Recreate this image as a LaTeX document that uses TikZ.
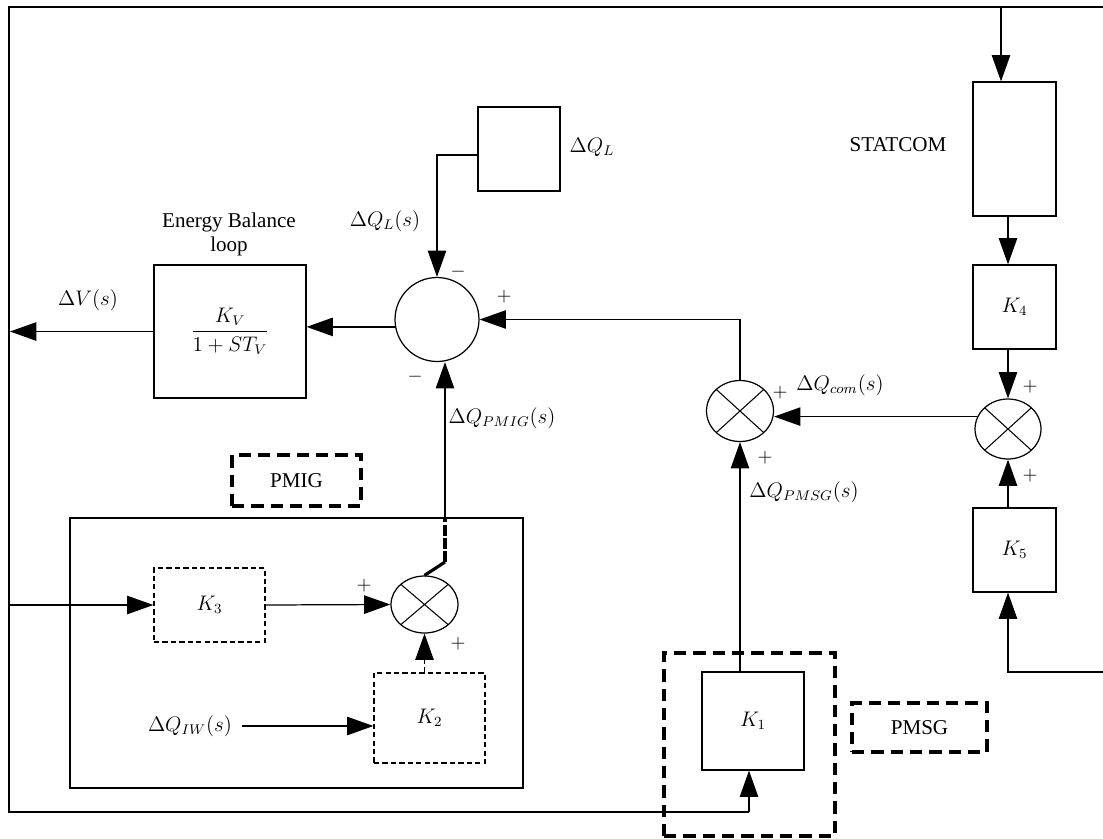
\documentclass[tikz,border=0pt]{standalone}
\usepackage{fontspec}
\setmainfont{Liberation Serif}
\usetikzlibrary{arrows.meta,shapes.geometric}

\tikzset{
  blk/.style={draw, line width=0.7pt, inner sep=0pt},
  dblk/.style={draw, line width=0.7pt, dash pattern=on 3pt off 1.8pt, inner sep=0pt},
  tagbox/.style={draw, line width=1.8pt, dash pattern=on 7pt off 4pt, inner sep=0pt},
  sumnode/.style={draw, circle, line width=0.7pt, minimum size=1.68cm, inner sep=0pt},
  mult/.style={draw, ellipse, line width=0.7pt, inner sep=0pt, minimum width=1.34cm, minimum height=1.2cm,
    path picture={\draw[line width=0.6pt] (path picture bounding box.north west) -- (path picture bounding box.south east)
      (path picture bounding box.north east) -- (path picture bounding box.south west);}},
  arr/.style={line width=0.7pt, -{Triangle[length=15pt,width=10.5pt]}},
  sgn/.style={font=\fontsize{11}{13}\selectfont, inner sep=0pt},
}

\begin{document}
\begin{tikzpicture}[x=0.02cm,y=-0.02cm,every node/.style={font=\fontsize{12}{13.6}\selectfont}]
\useasboundingbox (0,0) rectangle (1103,839);

% blocks
\node[blk, minimum width=1.64cm, minimum height=1.68cm] (dql) at (519,149) {};
\node[sumnode] (sum) at (437,319.5) {};
\node[blk, minimum width=3.04cm, minimum height=2.66cm] (eb) at (230,331.5) {$\displaystyle\frac{K_V}{1+ST_V}$};
\node[blk, minimum width=1.66cm, minimum height=2.68cm] (statcom) at (1014.5,149) {};
\node[blk, minimum width=1.66cm, minimum height=1.68cm] (k4) at (1014.5,307) {$K_4$};
\node[mult, minimum width=1.32cm] (c2) at (1008,429) {};
\node[blk, minimum width=1.66cm, minimum height=1.68cm] (k5) at (1014.5,550) {$K_5$};
\node[mult, minimum height=1.22cm] (c1) at (740,411) {};
\node[blk, minimum width=2.04cm, minimum height=1.96cm] (k1) at (753,721) {$K_1$};
\node[tagbox, minimum width=3.42cm, minimum height=3.66cm] (pmsgbox) at (749.5,744.5) {};
\node[tagbox, minimum width=2.7cm, minimum height=0.98cm] (pmsg) at (919.5,727.5) {PMSG};
\node[blk, minimum width=9.06cm, minimum height=5.4cm] (pmigbox) at (296.5,653) {};
\node[tagbox, minimum width=2.58cm, minimum height=1.02cm] (pmig) at (296.5,480.5) {PMIG};
\node[dblk, minimum width=2.22cm, minimum height=1.48cm] (k3) at (209.5,605) {$K_3$};
\node[mult, minimum height=1.14cm] (c3) at (424.5,604.5) {};
\node[dblk, minimum width=2.22cm, minimum height=1.8cm] (k2) at (429.5,718) {$K_2$};

% labels
\node[align=center] (ebl) at (229,234) {Energy Balance\\loop};
\node (dvl) at (88,300) {$\Delta V(s)$};
\node (dqls) at (385,221) {$\Delta Q_L(s)$};
\node (dqlt) at (592,147) {$\Delta Q_L$};
\node (pmigl) at (502,418) {$\Delta Q_{PMIG}(s)$};
\node (stl) at (898,145) {STATCOM};
\node (coml) at (840,385) {$\Delta Q_{com}(s)$};
\node (pmsgl) at (804,492) {$\Delta Q_{PMSG}(s)$};
\node (qiw) at (190,726) {$\Delta Q_{IW}(s)$};
\node[sgn] (s1) at (458,272) {$-$};
\node[sgn] (s2) at (504,297) {$+$};
\node[sgn] (s3) at (415,377) {$-$};
\node[sgn] (s4) at (780,393) {$+$};
\node[sgn] (s5) at (765,458) {$+$};
\node[sgn] (s6) at (1030,387) {$+$};
\node[sgn] (s7) at (1030,476) {$+$};
\node[sgn] (s8) at (364,586) {$+$};
\node[sgn] (s9) at (458,644) {$+$};

% frame and corners
\coordinate (ftl) at (9,7);
\coordinate (ftr) at (1103,7);
\coordinate (fbl) at (9,812);
\coordinate (fbk) at (749,812);
\coordinate (fst) at (1001,7);
\coordinate (fr) at (1103,672);
\coordinate (k3in) at (9,605);
\coordinate (dvout) at (10,331.5);
\coordinate (dqlk) at (437,155);
\coordinate (kink) at (445,562);
\coordinate (pin) at (445,518);

\draw[line width=0.8pt] (ftr) -- (ftl) -- (fbl) -- (fbk);
\draw[arr] (fbk) -- (fbk |- k1.south);
\draw[arr] (fst) -- (fst |- statcom.north);
\draw[arr] (fr) -| (c2 |- k5.south);

% connectors
\draw[arr] (dql.west |- dqlk) -- (dqlk) -- (sum.north);
\draw[arr] (sum.190) -- (sum.190 -| eb.east);
\draw[arr] (eb.west) -- (dvout);
\draw[arr] (c1.north) |- (sum.east);
\draw[arr] (c2.158) -- (c2.158 -| c1.east);
\draw[arr] (c1 |- k1.north) -- (c1.south);
\draw[arr] (c2 |- statcom.south) -- (c2 |- k4.north);
\draw[arr] (c2 |- k4.south) -- (c2.north);
\draw[arr] (c2 |- k5.north) -- (c2.south);
\draw[arr] (k3in) -- (k3.west);
\draw[arr] (k3.east) -- (c3.west);
\draw[arr, dash pattern=on 3pt off 1.8pt] (c3 |- k2.north) -- (c3.south);
\draw[arr] ([xshift=0.08cm]qiw.east) -- (qiw.east -| k2.west);
\draw[line width=1.8pt] (c3.north) -- (kink);
\draw[line width=1.8pt, dash pattern=on 6pt off 1.5pt] (kink) -- (pin);
\draw[arr] (pin) -- (pin |- sum.south);
\end{tikzpicture}
\end{document}
